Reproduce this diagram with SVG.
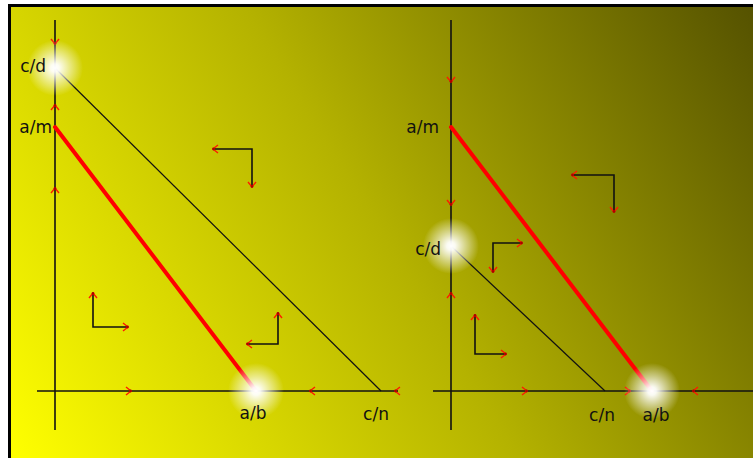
<svg xmlns="http://www.w3.org/2000/svg" xmlns:xlink="http://www.w3.org/1999/xlink" width="753" height="458" viewBox="0 0 753 458">
<defs>
<linearGradient id="bg" gradientUnits="userSpaceOnUse" x1="11" y1="458" x2="753" y2="7">
<stop offset="0" stop-color="#ffff00"/>
<stop offset="0.5" stop-color="#b4b200"/>
<stop offset="1" stop-color="#555200"/>
</linearGradient>
<radialGradient id="glow">
<stop offset="0" stop-color="#ffffff" stop-opacity="1"/>
<stop offset="0.15" stop-color="#ffffff" stop-opacity="0.95"/>
<stop offset="0.5" stop-color="#ffffff" stop-opacity="0.55"/>
<stop offset="1" stop-color="#ffffff" stop-opacity="0"/>
</radialGradient>
<g id="chev">
<path d="M-5,-4 L0,0 L-5,4" fill="none" stroke="#ff1a00" stroke-width="1.4"/>
<circle cx="-0.5" cy="0" r="1.4" fill="#b00000"/>
</g>
<marker id="ah" viewBox="-7 -5 9 10" refX="0" refY="0" markerWidth="9" markerHeight="10" orient="auto-start-reverse" markerUnits="userSpaceOnUse">
<path d="M-5,-4 L0,0 L-5,4" fill="none" stroke="#ff1a00" stroke-width="1.4"/>
<circle cx="-0.5" cy="0" r="1.4" fill="#b00000"/>
</marker>
</defs>
<style>
.axis{stroke:#111;stroke-width:1.6;fill:none}
.thin{stroke:#111;stroke-width:1.2;fill:none}
.red{stroke:#ff0000;stroke-width:4;fill:none;stroke-linecap:round}
.fld{stroke:#111;stroke-width:1.6;fill:none;marker-start:url(#ah);marker-end:url(#ah)}
.lbl{font-family:"DejaVu Sans",Verdana,sans-serif;font-size:17px;fill:#111}
</style>
<rect x="0" y="0" width="753" height="458" fill="#ffffff"/>
<rect x="8" y="4" width="745" height="454" fill="#000000"/>
<rect x="11" y="7" width="742" height="451" fill="url(#bg)"/>

<g id="connectors">
<!-- left panel axes -->
<line class="axis" x1="55" y1="20" x2="55" y2="430"/>
<line class="axis" x1="37" y1="391" x2="398" y2="391"/>
<!-- right panel axes -->
<line class="axis" x1="451" y1="20" x2="451" y2="430"/>
<line class="axis" x1="433" y1="391" x2="753" y2="391"/>
<!-- left lines -->
<line class="thin" x1="55" y1="68" x2="381" y2="391"/>
<line class="red" x1="55" y1="127" x2="256" y2="391"/>
<!-- right lines -->
<line class="thin" x1="451" y1="246" x2="605" y2="391"/>
<line class="red" x1="451" y1="127" x2="652" y2="391"/>
<!-- axis arrowheads -->
<use xlink:href="#chev" transform="translate(55,44) rotate(90)"/>
<use xlink:href="#chev" transform="translate(55,105) rotate(-90)"/>
<use xlink:href="#chev" transform="translate(55,188) rotate(-90)"/>
<use xlink:href="#chev" transform="translate(131,391)"/>
<use xlink:href="#chev" transform="translate(310,391) rotate(180)"/>
<use xlink:href="#chev" transform="translate(395,391) rotate(180)"/>
<use xlink:href="#chev" transform="translate(451,82) rotate(90)"/>
<use xlink:href="#chev" transform="translate(451,205) rotate(90)"/>
<use xlink:href="#chev" transform="translate(451,293) rotate(-90)"/>
<use xlink:href="#chev" transform="translate(527,391)"/>
<use xlink:href="#chev" transform="translate(630,391)"/>
<use xlink:href="#chev" transform="translate(693,391) rotate(180)"/>
<!-- direction field -->
<path class="fld" d="M213,149 H252 V187"/>
<path class="fld" d="M93,293 V327 H128"/>
<path class="fld" d="M278,313 V344 H247"/>
<path class="fld" d="M572,175 H614 V212"/>
<path class="fld" d="M522,243 H493 V272"/>
<path class="fld" d="M475,315 V354 H506"/>
</g>

<g id="left-cd"><circle cx="55" cy="68" r="28" fill="url(#glow)"/><text class="lbl" x="46" y="72" text-anchor="end">c/d</text></g>
<g id="left-am"><text class="lbl" x="52" y="133" text-anchor="end">a/m</text></g>
<g id="left-ab"><circle cx="256" cy="391" r="28" fill="url(#glow)"/><text class="lbl" x="253" y="419" text-anchor="middle">a/b</text></g>
<g id="left-cn"><text class="lbl" x="376" y="420" text-anchor="middle">c/n</text></g>
<g id="right-am"><text class="lbl" x="439" y="133" text-anchor="end">a/m</text></g>
<g id="right-cd"><circle cx="451" cy="246" r="28" fill="url(#glow)"/><text class="lbl" x="441" y="255" text-anchor="end">c/d</text></g>
<g id="right-cn"><text class="lbl" x="602" y="421" text-anchor="middle">c/n</text></g>
<g id="right-ab"><circle cx="652" cy="391" r="28" fill="url(#glow)"/><text class="lbl" x="656" y="421" text-anchor="middle">a/b</text></g>
</svg>
